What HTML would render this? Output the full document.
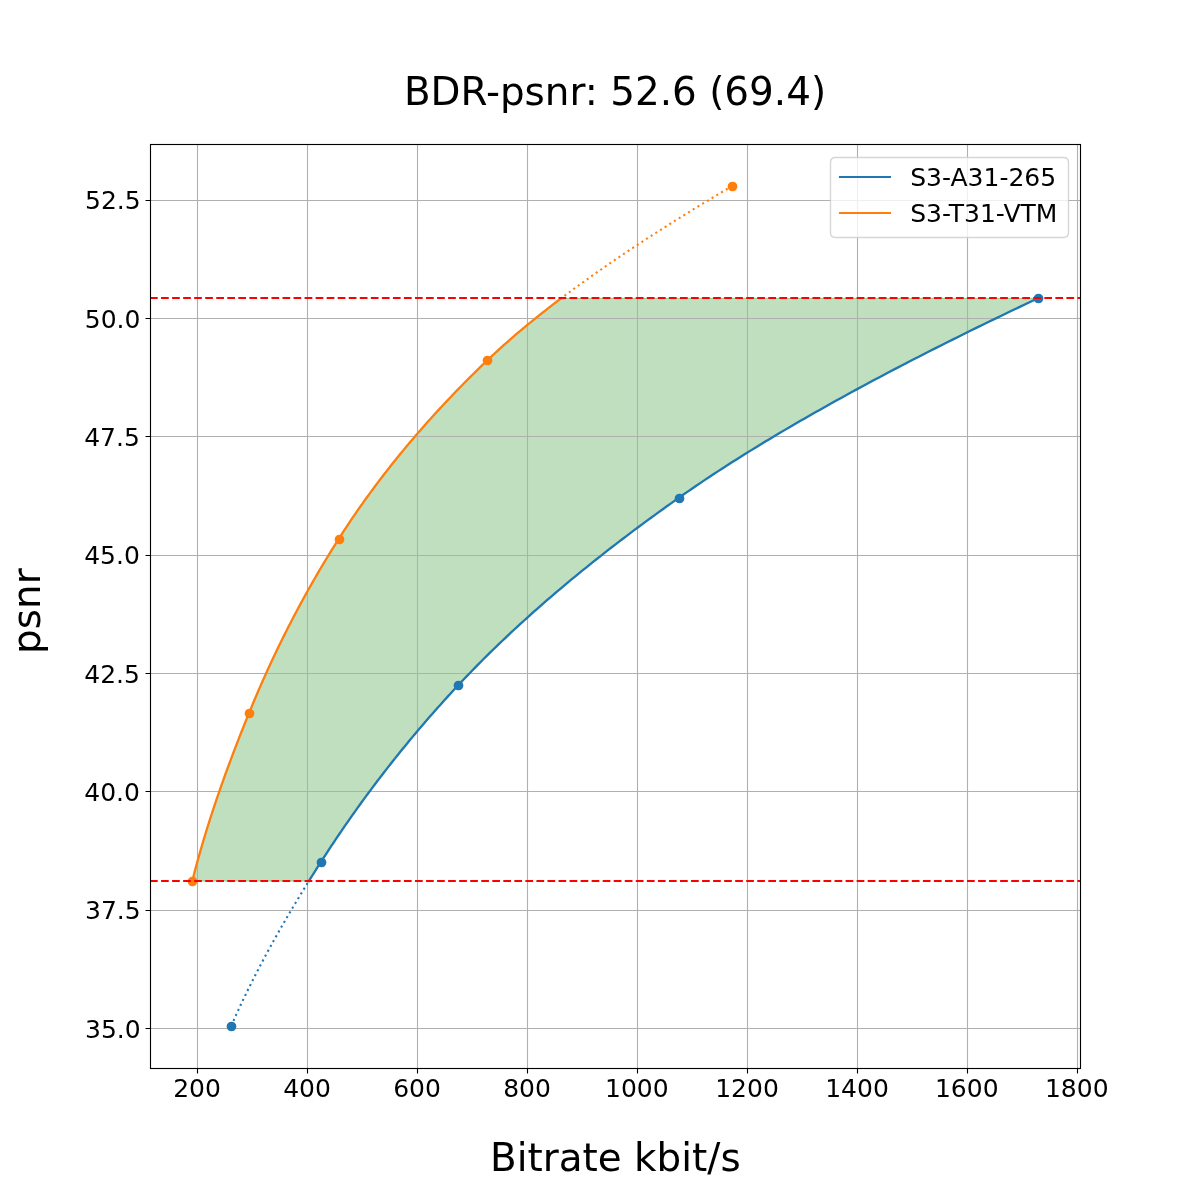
<!DOCTYPE html>
<html lang="en"><head><meta charset="utf-8"><title>BDR-psnr: 52.6 (69.4)</title>
<style>html,body{margin:0;padding:0;background:#fff;width:1200px;height:1200px;overflow:hidden}svg text{white-space:pre}</style>
</head><body>
<svg width="1200" height="1200" viewBox="0 0 1200 1200" font-family="DejaVu Sans, Liberation Sans, sans-serif" style="display:block">
<rect width="1200" height="1200" fill="#fff"/>
<path d="M192.27 881.12 L193.01 878.19 L193.76 875.26 L194.52 872.33 L195.29 869.40 L196.07 866.47 L196.86 863.54 L197.66 860.62 L198.47 857.69 L199.30 854.76 L200.13 851.83 L200.97 848.90 L201.82 845.97 L202.68 843.04 L203.55 840.12 L204.42 837.19 L205.31 834.26 L206.21 831.33 L207.11 828.40 L208.03 825.47 L208.95 822.55 L209.89 819.62 L210.83 816.69 L211.78 813.76 L212.74 810.83 L213.70 807.90 L214.68 804.97 L215.66 802.05 L216.65 799.12 L217.65 796.19 L218.66 793.26 L219.68 790.33 L220.70 787.40 L221.73 784.48 L222.77 781.55 L223.82 778.62 L224.87 775.69 L225.93 772.76 L227.00 769.83 L228.08 766.90 L229.16 763.98 L230.25 761.05 L231.34 758.12 L232.45 755.19 L233.56 752.26 L234.67 749.33 L235.80 746.41 L236.93 743.48 L238.06 740.55 L239.20 737.62 L240.35 734.69 L241.50 731.76 L242.66 728.83 L243.83 725.91 L245.00 722.98 L246.18 720.05 L247.36 717.12 L248.55 714.19 L249.74 711.26 L250.95 708.33 L252.16 705.41 L253.38 702.48 L254.61 699.55 L255.86 696.62 L257.11 693.69 L258.37 690.76 L259.64 687.84 L260.92 684.91 L262.21 681.98 L263.51 679.05 L264.82 676.12 L266.14 673.19 L267.47 670.26 L268.81 667.34 L270.16 664.41 L271.53 661.48 L272.90 658.55 L274.28 655.62 L275.67 652.69 L277.08 649.77 L278.49 646.84 L279.92 643.91 L281.36 640.98 L282.80 638.05 L284.26 635.12 L285.73 632.19 L287.21 629.27 L288.70 626.34 L290.21 623.41 L291.72 620.48 L293.25 617.55 L294.78 614.62 L296.33 611.69 L297.89 608.77 L299.46 605.84 L301.05 602.91 L302.64 599.98 L304.25 597.05 L305.87 594.12 L307.50 591.20 L309.14 588.27 L310.80 585.34 L312.46 582.41 L314.14 579.48 L315.84 576.55 L317.54 573.62 L319.26 570.70 L320.98 567.77 L322.73 564.84 L324.48 561.91 L326.25 558.98 L328.03 556.05 L329.82 553.13 L331.62 550.20 L333.44 547.27 L335.27 544.34 L337.12 541.41 L338.97 538.48 L340.85 535.55 L342.74 532.63 L344.64 529.70 L346.57 526.77 L348.51 523.84 L350.47 520.91 L352.45 517.98 L354.45 515.06 L356.46 512.13 L358.49 509.20 L360.54 506.27 L362.61 503.34 L364.69 500.41 L366.80 497.48 L368.92 494.56 L371.06 491.63 L373.22 488.70 L375.40 485.77 L377.60 482.84 L379.81 479.91 L382.05 476.98 L384.30 474.06 L386.57 471.13 L388.86 468.20 L391.17 465.27 L393.50 462.34 L395.85 459.41 L398.22 456.49 L400.61 453.56 L403.02 450.63 L405.44 447.70 L407.89 444.77 L410.36 441.84 L412.85 438.91 L415.35 435.99 L417.88 433.06 L420.43 430.13 L422.99 427.20 L425.58 424.27 L428.19 421.34 L430.82 418.42 L433.47 415.49 L436.14 412.56 L438.83 409.63 L441.54 406.70 L444.27 403.77 L447.03 400.84 L449.80 397.92 L452.60 394.99 L455.41 392.06 L458.25 389.13 L461.11 386.20 L463.99 383.27 L466.90 380.34 L469.82 377.42 L472.77 374.49 L475.73 371.56 L478.72 368.63 L481.74 365.70 L484.77 362.77 L487.83 359.85 L490.92 356.92 L494.05 353.99 L497.22 351.06 L500.44 348.13 L503.70 345.20 L507.00 342.27 L510.34 339.35 L513.72 336.42 L517.13 333.49 L520.59 330.56 L524.09 327.63 L527.62 324.70 L531.20 321.78 L534.81 318.85 L538.46 315.92 L542.14 312.99 L545.87 310.06 L549.62 307.13 L553.42 304.20 L557.25 301.28 L561.11 298.35 L1037.73 298.35 L1031.53 301.28 L1025.35 304.20 L1019.20 307.13 L1013.07 310.06 L1006.97 312.99 L1000.89 315.92 L994.83 318.85 L988.79 321.78 L982.78 324.70 L976.80 327.63 L970.84 330.56 L964.90 333.49 L958.99 336.42 L953.11 339.35 L947.25 342.27 L941.42 345.20 L935.61 348.13 L929.83 351.06 L924.08 353.99 L918.35 356.92 L912.65 359.85 L906.98 362.77 L901.33 365.70 L895.71 368.63 L890.12 371.56 L884.56 374.49 L879.03 377.42 L873.52 380.34 L868.04 383.27 L862.60 386.20 L857.18 389.13 L851.79 392.06 L846.43 394.99 L841.10 397.92 L835.80 400.84 L830.54 403.77 L825.30 406.70 L820.09 409.63 L814.91 412.56 L809.77 415.49 L804.65 418.42 L799.57 421.34 L794.52 424.27 L789.50 427.20 L784.52 430.13 L779.57 433.06 L774.65 435.99 L769.76 438.91 L764.90 441.84 L760.08 444.77 L755.30 447.70 L750.54 450.63 L745.82 453.56 L741.14 456.49 L736.49 459.41 L731.87 462.34 L727.29 465.27 L722.75 468.20 L718.24 471.13 L713.76 474.06 L709.33 476.98 L704.92 479.91 L700.56 482.84 L696.23 485.77 L691.94 488.70 L687.68 491.63 L683.46 494.56 L679.28 497.48 L675.13 500.41 L671.01 503.34 L666.90 506.27 L662.82 509.20 L658.76 512.13 L654.72 515.06 L650.70 517.98 L646.71 520.91 L642.74 523.84 L638.79 526.77 L634.86 529.70 L630.96 532.63 L627.07 535.55 L623.21 538.48 L619.37 541.41 L615.56 544.34 L611.76 547.27 L607.99 550.20 L604.24 553.13 L600.52 556.05 L596.81 558.98 L593.13 561.91 L589.47 564.84 L585.83 567.77 L582.21 570.70 L578.62 573.62 L575.05 576.55 L571.50 579.48 L567.97 582.41 L564.47 585.34 L560.99 588.27 L557.52 591.20 L554.09 594.12 L550.67 597.05 L547.28 599.98 L543.91 602.91 L540.56 605.84 L537.23 608.77 L533.92 611.69 L530.64 614.62 L527.38 617.55 L524.14 620.48 L520.93 623.41 L517.73 626.34 L514.56 629.27 L511.41 632.19 L508.29 635.12 L505.18 638.05 L502.10 640.98 L499.04 643.91 L496.00 646.84 L492.98 649.77 L489.99 652.69 L487.02 655.62 L484.07 658.55 L481.14 661.48 L478.24 664.41 L475.35 667.34 L472.49 670.26 L469.66 673.19 L466.84 676.12 L464.05 679.05 L461.27 681.98 L458.52 684.91 L455.80 687.84 L453.08 690.76 L450.39 693.69 L447.71 696.62 L445.05 699.55 L442.41 702.48 L439.78 705.41 L437.17 708.33 L434.58 711.26 L432.00 714.19 L429.44 717.12 L426.89 720.05 L424.36 722.98 L421.85 725.91 L419.35 728.83 L416.87 731.76 L414.40 734.69 L411.95 737.62 L409.52 740.55 L407.10 743.48 L404.70 746.41 L402.31 749.33 L399.93 752.26 L397.58 755.19 L395.23 758.12 L392.90 761.05 L390.59 763.98 L388.29 766.90 L386.00 769.83 L383.73 772.76 L381.48 775.69 L379.23 778.62 L377.01 781.55 L374.79 784.48 L372.59 787.40 L370.40 790.33 L368.23 793.26 L366.07 796.19 L363.93 799.12 L361.79 802.05 L359.67 804.97 L357.57 807.90 L355.48 810.83 L353.40 813.76 L351.33 816.69 L349.27 819.62 L347.23 822.55 L345.20 825.47 L343.19 828.40 L341.18 831.33 L339.19 834.26 L337.21 837.19 L335.24 840.12 L333.28 843.04 L331.34 845.97 L329.41 848.90 L327.49 851.83 L325.58 854.76 L323.68 857.69 L321.79 860.62 L319.92 863.54 L318.05 866.47 L316.19 869.40 L314.34 872.33 L312.50 875.26 L310.66 878.19 L308.84 881.12 Z" fill="#008000" fill-opacity="0.25"/>
<path d="M192.27 881.12 L193.01 878.19 L193.76 875.26 L194.52 872.33 L195.29 869.40 L196.07 866.47 L196.86 863.54 L197.66 860.62 L198.47 857.69 L199.30 854.76 L200.13 851.83 L200.97 848.90 L201.82 845.97 L202.68 843.04 L203.55 840.12 L204.42 837.19 L205.31 834.26 L206.21 831.33 L207.11 828.40 L208.03 825.47 L208.95 822.55 L209.89 819.62 L210.83 816.69 L211.78 813.76 L212.74 810.83 L213.70 807.90 L214.68 804.97 L215.66 802.05 L216.65 799.12 L217.65 796.19 L218.66 793.26 L219.68 790.33 L220.70 787.40 L221.73 784.48 L222.77 781.55 L223.82 778.62 L224.87 775.69 L225.93 772.76 L227.00 769.83 L228.08 766.90 L229.16 763.98 L230.25 761.05 L231.34 758.12 L232.45 755.19 L233.56 752.26 L234.67 749.33 L235.80 746.41 L236.93 743.48 L238.06 740.55 L239.20 737.62 L240.35 734.69 L241.50 731.76 L242.66 728.83 L243.83 725.91 L245.00 722.98 L246.18 720.05 L247.36 717.12 L248.55 714.19 L249.74 711.26 L250.95 708.33 L252.16 705.41 L253.38 702.48 L254.61 699.55 L255.86 696.62 L257.11 693.69 L258.37 690.76 L259.64 687.84 L260.92 684.91 L262.21 681.98 L263.51 679.05 L264.82 676.12 L266.14 673.19 L267.47 670.26 L268.81 667.34 L270.16 664.41 L271.53 661.48 L272.90 658.55 L274.28 655.62 L275.67 652.69 L277.08 649.77 L278.49 646.84 L279.92 643.91 L281.36 640.98 L282.80 638.05 L284.26 635.12 L285.73 632.19 L287.21 629.27 L288.70 626.34 L290.21 623.41 L291.72 620.48 L293.25 617.55 L294.78 614.62 L296.33 611.69 L297.89 608.77 L299.46 605.84 L301.05 602.91 L302.64 599.98 L304.25 597.05 L305.87 594.12 L307.50 591.20 L309.14 588.27 L310.80 585.34 L312.46 582.41 L314.14 579.48 L315.84 576.55 L317.54 573.62 L319.26 570.70 L320.98 567.77 L322.73 564.84 L324.48 561.91 L326.25 558.98 L328.03 556.05 L329.82 553.13 L331.62 550.20 L333.44 547.27 L335.27 544.34 L337.12 541.41 L338.97 538.48 L340.85 535.55 L342.74 532.63 L344.64 529.70 L346.57 526.77 L348.51 523.84 L350.47 520.91 L352.45 517.98 L354.45 515.06 L356.46 512.13 L358.49 509.20 L360.54 506.27 L362.61 503.34 L364.69 500.41 L366.80 497.48 L368.92 494.56 L371.06 491.63 L373.22 488.70 L375.40 485.77 L377.60 482.84 L379.81 479.91 L382.05 476.98 L384.30 474.06 L386.57 471.13 L388.86 468.20 L391.17 465.27 L393.50 462.34 L395.85 459.41 L398.22 456.49 L400.61 453.56 L403.02 450.63 L405.44 447.70 L407.89 444.77 L410.36 441.84 L412.85 438.91 L415.35 435.99 L417.88 433.06 L420.43 430.13 L422.99 427.20 L425.58 424.27 L428.19 421.34 L430.82 418.42 L433.47 415.49 L436.14 412.56 L438.83 409.63 L441.54 406.70 L444.27 403.77 L447.03 400.84 L449.80 397.92 L452.60 394.99 L455.41 392.06 L458.25 389.13 L461.11 386.20 L463.99 383.27 L466.90 380.34 L469.82 377.42 L472.77 374.49 L475.73 371.56 L478.72 368.63 L481.74 365.70 L484.77 362.77 L487.83 359.85 L490.92 356.92 L494.05 353.99 L497.22 351.06 L500.44 348.13 L503.70 345.20 L507.00 342.27 L510.34 339.35 L513.72 336.42 L517.13 333.49 L520.59 330.56 L524.09 327.63 L527.62 324.70 L531.20 321.78 L534.81 318.85 L538.46 315.92 L542.14 312.99 L545.87 310.06 L549.62 307.13 L553.42 304.20 L557.25 301.28 L561.11 298.35 L1037.73 298.35 L1031.53 301.28 L1025.35 304.20 L1019.20 307.13 L1013.07 310.06 L1006.97 312.99 L1000.89 315.92 L994.83 318.85 L988.79 321.78 L982.78 324.70 L976.80 327.63 L970.84 330.56 L964.90 333.49 L958.99 336.42 L953.11 339.35 L947.25 342.27 L941.42 345.20 L935.61 348.13 L929.83 351.06 L924.08 353.99 L918.35 356.92 L912.65 359.85 L906.98 362.77 L901.33 365.70 L895.71 368.63 L890.12 371.56 L884.56 374.49 L879.03 377.42 L873.52 380.34 L868.04 383.27 L862.60 386.20 L857.18 389.13 L851.79 392.06 L846.43 394.99 L841.10 397.92 L835.80 400.84 L830.54 403.77 L825.30 406.70 L820.09 409.63 L814.91 412.56 L809.77 415.49 L804.65 418.42 L799.57 421.34 L794.52 424.27 L789.50 427.20 L784.52 430.13 L779.57 433.06 L774.65 435.99 L769.76 438.91 L764.90 441.84 L760.08 444.77 L755.30 447.70 L750.54 450.63 L745.82 453.56 L741.14 456.49 L736.49 459.41 L731.87 462.34 L727.29 465.27 L722.75 468.20 L718.24 471.13 L713.76 474.06 L709.33 476.98 L704.92 479.91 L700.56 482.84 L696.23 485.77 L691.94 488.70 L687.68 491.63 L683.46 494.56 L679.28 497.48 L675.13 500.41 L671.01 503.34 L666.90 506.27 L662.82 509.20 L658.76 512.13 L654.72 515.06 L650.70 517.98 L646.71 520.91 L642.74 523.84 L638.79 526.77 L634.86 529.70 L630.96 532.63 L627.07 535.55 L623.21 538.48 L619.37 541.41 L615.56 544.34 L611.76 547.27 L607.99 550.20 L604.24 553.13 L600.52 556.05 L596.81 558.98 L593.13 561.91 L589.47 564.84 L585.83 567.77 L582.21 570.70 L578.62 573.62 L575.05 576.55 L571.50 579.48 L567.97 582.41 L564.47 585.34 L560.99 588.27 L557.52 591.20 L554.09 594.12 L550.67 597.05 L547.28 599.98 L543.91 602.91 L540.56 605.84 L537.23 608.77 L533.92 611.69 L530.64 614.62 L527.38 617.55 L524.14 620.48 L520.93 623.41 L517.73 626.34 L514.56 629.27 L511.41 632.19 L508.29 635.12 L505.18 638.05 L502.10 640.98 L499.04 643.91 L496.00 646.84 L492.98 649.77 L489.99 652.69 L487.02 655.62 L484.07 658.55 L481.14 661.48 L478.24 664.41 L475.35 667.34 L472.49 670.26 L469.66 673.19 L466.84 676.12 L464.05 679.05 L461.27 681.98 L458.52 684.91 L455.80 687.84 L453.08 690.76 L450.39 693.69 L447.71 696.62 L445.05 699.55 L442.41 702.48 L439.78 705.41 L437.17 708.33 L434.58 711.26 L432.00 714.19 L429.44 717.12 L426.89 720.05 L424.36 722.98 L421.85 725.91 L419.35 728.83 L416.87 731.76 L414.40 734.69 L411.95 737.62 L409.52 740.55 L407.10 743.48 L404.70 746.41 L402.31 749.33 L399.93 752.26 L397.58 755.19 L395.23 758.12 L392.90 761.05 L390.59 763.98 L388.29 766.90 L386.00 769.83 L383.73 772.76 L381.48 775.69 L379.23 778.62 L377.01 781.55 L374.79 784.48 L372.59 787.40 L370.40 790.33 L368.23 793.26 L366.07 796.19 L363.93 799.12 L361.79 802.05 L359.67 804.97 L357.57 807.90 L355.48 810.83 L353.40 813.76 L351.33 816.69 L349.27 819.62 L347.23 822.55 L345.20 825.47 L343.19 828.40 L341.18 831.33 L339.19 834.26 L337.21 837.19 L335.24 840.12 L333.28 843.04 L331.34 845.97 L329.41 848.90 L327.49 851.83 L325.58 854.76 L323.68 857.69 L321.79 860.62 L319.92 863.54 L318.05 866.47 L316.19 869.40 L314.34 872.33 L312.50 875.26 L310.66 878.19 L308.84 881.12 Z" fill="none" stroke="#008000" stroke-opacity="0.25" stroke-width="1.389" stroke-linejoin="miter"/>
<path d="M197.5 144V1068M307.5 144V1068M417.5 144V1068M527.5 144V1068M637.5 144V1068M747.5 144V1068M857.5 144V1068M967.5 144V1068M1077.5 144V1068M150 1028.5H1080M150 910.5H1080M150 791.5H1080M150 673.5H1080M150 555.5H1080M150 436.5H1080M150 318.5H1080M150 200.5H1080" stroke="#b0b0b0" stroke-width="1.11" fill="none"/>
<g fill="none" stroke-width="2.083" stroke-linejoin="round">
<path d="M308.84 881.12 L310.66 878.19 L312.50 875.26 L314.34 872.33 L316.19 869.40 L318.05 866.47 L319.92 863.54 L321.79 860.62 L323.68 857.69 L325.58 854.76 L327.49 851.83 L329.41 848.90 L331.34 845.97 L333.28 843.04 L335.24 840.12 L337.21 837.19 L339.19 834.26 L341.18 831.33 L343.19 828.40 L345.20 825.47 L347.23 822.55 L349.27 819.62 L351.33 816.69 L353.40 813.76 L355.48 810.83 L357.57 807.90 L359.67 804.97 L361.79 802.05 L363.93 799.12 L366.07 796.19 L368.23 793.26 L370.40 790.33 L372.59 787.40 L374.79 784.48 L377.01 781.55 L379.23 778.62 L381.48 775.69 L383.73 772.76 L386.00 769.83 L388.29 766.90 L390.59 763.98 L392.90 761.05 L395.23 758.12 L397.58 755.19 L399.93 752.26 L402.31 749.33 L404.70 746.41 L407.10 743.48 L409.52 740.55 L411.95 737.62 L414.40 734.69 L416.87 731.76 L419.35 728.83 L421.85 725.91 L424.36 722.98 L426.89 720.05 L429.44 717.12 L432.00 714.19 L434.58 711.26 L437.17 708.33 L439.78 705.41 L442.41 702.48 L445.05 699.55 L447.71 696.62 L450.39 693.69 L453.08 690.76 L455.80 687.84 L458.52 684.91 L461.27 681.98 L464.05 679.05 L466.84 676.12 L469.66 673.19 L472.49 670.26 L475.35 667.34 L478.24 664.41 L481.14 661.48 L484.07 658.55 L487.02 655.62 L489.99 652.69 L492.98 649.77 L496.00 646.84 L499.04 643.91 L502.10 640.98 L505.18 638.05 L508.29 635.12 L511.41 632.19 L514.56 629.27 L517.73 626.34 L520.93 623.41 L524.14 620.48 L527.38 617.55 L530.64 614.62 L533.92 611.69 L537.23 608.77 L540.56 605.84 L543.91 602.91 L547.28 599.98 L550.67 597.05 L554.09 594.12 L557.52 591.20 L560.99 588.27 L564.47 585.34 L567.97 582.41 L571.50 579.48 L575.05 576.55 L578.62 573.62 L582.21 570.70 L585.83 567.77 L589.47 564.84 L593.13 561.91 L596.81 558.98 L600.52 556.05 L604.24 553.13 L607.99 550.20 L611.76 547.27 L615.56 544.34 L619.37 541.41 L623.21 538.48 L627.07 535.55 L630.96 532.63 L634.86 529.70 L638.79 526.77 L642.74 523.84 L646.71 520.91 L650.70 517.98 L654.72 515.06 L658.76 512.13 L662.82 509.20 L666.90 506.27 L671.01 503.34 L675.13 500.41 L679.28 497.48 L683.46 494.56 L687.68 491.63 L691.94 488.70 L696.23 485.77 L700.56 482.84 L704.92 479.91 L709.33 476.98 L713.76 474.06 L718.24 471.13 L722.75 468.20 L727.29 465.27 L731.87 462.34 L736.49 459.41 L741.14 456.49 L745.82 453.56 L750.54 450.63 L755.30 447.70 L760.08 444.77 L764.90 441.84 L769.76 438.91 L774.65 435.99 L779.57 433.06 L784.52 430.13 L789.50 427.20 L794.52 424.27 L799.57 421.34 L804.65 418.42 L809.77 415.49 L814.91 412.56 L820.09 409.63 L825.30 406.70 L830.54 403.77 L835.80 400.84 L841.10 397.92 L846.43 394.99 L851.79 392.06 L857.18 389.13 L862.60 386.20 L868.04 383.27 L873.52 380.34 L879.03 377.42 L884.56 374.49 L890.12 371.56 L895.71 368.63 L901.33 365.70 L906.98 362.77 L912.65 359.85 L918.35 356.92 L924.08 353.99 L929.83 351.06 L935.61 348.13 L941.42 345.20 L947.25 342.27 L953.11 339.35 L958.99 336.42 L964.90 333.49 L970.84 330.56 L976.80 327.63 L982.78 324.70 L988.79 321.78 L994.83 318.85 L1000.89 315.92 L1006.97 312.99 L1013.07 310.06 L1019.20 307.13 L1025.35 304.20 L1031.53 301.28 L1037.73 298.35" stroke="#1f77b4" stroke-linecap="square" stroke-width="2.3"/>
<path d="M192.27 881.12 L193.01 878.19 L193.76 875.26 L194.52 872.33 L195.29 869.40 L196.07 866.47 L196.86 863.54 L197.66 860.62 L198.47 857.69 L199.30 854.76 L200.13 851.83 L200.97 848.90 L201.82 845.97 L202.68 843.04 L203.55 840.12 L204.42 837.19 L205.31 834.26 L206.21 831.33 L207.11 828.40 L208.03 825.47 L208.95 822.55 L209.89 819.62 L210.83 816.69 L211.78 813.76 L212.74 810.83 L213.70 807.90 L214.68 804.97 L215.66 802.05 L216.65 799.12 L217.65 796.19 L218.66 793.26 L219.68 790.33 L220.70 787.40 L221.73 784.48 L222.77 781.55 L223.82 778.62 L224.87 775.69 L225.93 772.76 L227.00 769.83 L228.08 766.90 L229.16 763.98 L230.25 761.05 L231.34 758.12 L232.45 755.19 L233.56 752.26 L234.67 749.33 L235.80 746.41 L236.93 743.48 L238.06 740.55 L239.20 737.62 L240.35 734.69 L241.50 731.76 L242.66 728.83 L243.83 725.91 L245.00 722.98 L246.18 720.05 L247.36 717.12 L248.55 714.19 L249.74 711.26 L250.95 708.33 L252.16 705.41 L253.38 702.48 L254.61 699.55 L255.86 696.62 L257.11 693.69 L258.37 690.76 L259.64 687.84 L260.92 684.91 L262.21 681.98 L263.51 679.05 L264.82 676.12 L266.14 673.19 L267.47 670.26 L268.81 667.34 L270.16 664.41 L271.53 661.48 L272.90 658.55 L274.28 655.62 L275.67 652.69 L277.08 649.77 L278.49 646.84 L279.92 643.91 L281.36 640.98 L282.80 638.05 L284.26 635.12 L285.73 632.19 L287.21 629.27 L288.70 626.34 L290.21 623.41 L291.72 620.48 L293.25 617.55 L294.78 614.62 L296.33 611.69 L297.89 608.77 L299.46 605.84 L301.05 602.91 L302.64 599.98 L304.25 597.05 L305.87 594.12 L307.50 591.20 L309.14 588.27 L310.80 585.34 L312.46 582.41 L314.14 579.48 L315.84 576.55 L317.54 573.62 L319.26 570.70 L320.98 567.77 L322.73 564.84 L324.48 561.91 L326.25 558.98 L328.03 556.05 L329.82 553.13 L331.62 550.20 L333.44 547.27 L335.27 544.34 L337.12 541.41 L338.97 538.48 L340.85 535.55 L342.74 532.63 L344.64 529.70 L346.57 526.77 L348.51 523.84 L350.47 520.91 L352.45 517.98 L354.45 515.06 L356.46 512.13 L358.49 509.20 L360.54 506.27 L362.61 503.34 L364.69 500.41 L366.80 497.48 L368.92 494.56 L371.06 491.63 L373.22 488.70 L375.40 485.77 L377.60 482.84 L379.81 479.91 L382.05 476.98 L384.30 474.06 L386.57 471.13 L388.86 468.20 L391.17 465.27 L393.50 462.34 L395.85 459.41 L398.22 456.49 L400.61 453.56 L403.02 450.63 L405.44 447.70 L407.89 444.77 L410.36 441.84 L412.85 438.91 L415.35 435.99 L417.88 433.06 L420.43 430.13 L422.99 427.20 L425.58 424.27 L428.19 421.34 L430.82 418.42 L433.47 415.49 L436.14 412.56 L438.83 409.63 L441.54 406.70 L444.27 403.77 L447.03 400.84 L449.80 397.92 L452.60 394.99 L455.41 392.06 L458.25 389.13 L461.11 386.20 L463.99 383.27 L466.90 380.34 L469.82 377.42 L472.77 374.49 L475.73 371.56 L478.72 368.63 L481.74 365.70 L484.77 362.77 L487.83 359.85 L490.92 356.92 L494.05 353.99 L497.22 351.06 L500.44 348.13 L503.70 345.20 L507.00 342.27 L510.34 339.35 L513.72 336.42 L517.13 333.49 L520.59 330.56 L524.09 327.63 L527.62 324.70 L531.20 321.78 L534.81 318.85 L538.46 315.92 L542.14 312.99 L545.87 310.06 L549.62 307.13 L553.42 304.20 L557.25 301.28 L561.11 298.35" stroke="#ff7f0e" stroke-linecap="square" stroke-width="2.3"/>
<path d="M231.20 1026.00 L232.50 1023.04 L233.81 1020.09 L235.13 1017.13 L236.47 1014.17 L237.82 1011.22 L239.18 1008.26 L240.56 1005.30 L241.95 1002.35 L243.35 999.39 L244.77 996.43 L246.20 993.47 L247.64 990.52 L249.09 987.56 L250.55 984.60 L252.03 981.65 L253.52 978.69 L255.02 975.73 L256.53 972.78 L258.06 969.82 L259.60 966.86 L261.15 963.91 L262.71 960.95 L264.28 957.99 L265.86 955.04 L267.45 952.08 L269.06 949.12 L270.68 946.17 L272.30 943.21 L273.94 940.25 L275.59 937.29 L277.25 934.34 L278.92 931.38 L280.60 928.42 L282.29 925.47 L283.99 922.51 L285.71 919.55 L287.43 916.60 L289.16 913.64 L290.90 910.68 L292.65 907.73 L294.41 904.77 L296.18 901.81 L297.96 898.86 L299.75 895.90 L301.55 892.94 L303.36 889.99 L305.17 887.03 L307.00 884.07 L308.84 881.12" stroke="#1f77b4" stroke-dasharray="2.083 3.437"/>
<path d="M561.11 298.35 L564.17 296.05 L567.24 293.76 L570.33 291.47 L573.44 289.18 L576.58 286.88 L579.73 284.59 L582.91 282.30 L586.10 280.00 L589.32 277.71 L592.55 275.42 L595.80 273.13 L599.08 270.83 L602.37 268.54 L605.68 266.25 L609.01 263.96 L612.36 261.66 L615.73 259.37 L619.11 257.08 L622.52 254.78 L625.94 252.49 L629.38 250.20 L632.83 247.91 L636.31 245.61 L639.80 243.32 L643.31 241.03 L646.83 238.73 L650.37 236.44 L653.93 234.15 L657.50 231.86 L661.10 229.56 L664.70 227.27 L668.32 224.98 L671.96 222.68 L675.61 220.39 L679.28 218.10 L682.96 215.81 L686.66 213.51 L690.38 211.22 L694.10 208.93 L697.84 206.64 L701.60 204.34 L705.37 202.05 L709.15 199.76 L712.95 197.46 L716.76 195.17 L720.58 192.88 L724.42 190.59 L728.27 188.29 L732.13 186.00" stroke="#ff7f0e" stroke-dasharray="2.083 3.437" stroke-dashoffset="1.3"/>
</g>
<g fill="#1f77b4"><circle cx="231.50" cy="1026.50" r="4.86"/><circle cx="321.50" cy="862.50" r="4.86"/><circle cx="458.50" cy="685.50" r="4.86"/><circle cx="679.50" cy="498.50" r="4.86"/><circle cx="1038.50" cy="298.50" r="4.86"/></g>
<g fill="#ff7f0e"><circle cx="192.50" cy="881.50" r="4.86"/><circle cx="249.50" cy="713.50" r="4.86"/><circle cx="339.50" cy="539.50" r="4.86"/><circle cx="487.50" cy="360.50" r="4.86"/><circle cx="732.50" cy="186.50" r="4.86"/></g>
<path d="M150 881.00H1080" stroke="#ff0000" stroke-width="2.083" stroke-dasharray="7.708 3.333" fill="none"/>
<path d="M150 298.00H1080" stroke="#ff0000" stroke-width="2.083" stroke-dasharray="7.708 3.333" fill="none"/>
<path d="M197.5 1068.5v5.0M307.5 1068.5v5.0M417.5 1068.5v5.0M527.5 1068.5v5.0M637.5 1068.5v5.0M747.5 1068.5v5.0M857.5 1068.5v5.0M967.5 1068.5v5.0M1077.5 1068.5v5.0M150.5 1028.5h-5.0M150.5 910.5h-5.0M150.5 791.5h-5.0M150.5 673.5h-5.0M150.5 555.5h-5.0M150.5 436.5h-5.0M150.5 318.5h-5.0M150.5 200.5h-5.0" stroke="#000" stroke-width="1.11" fill="none"/>
<rect x="150.5" y="144.5" width="930" height="924" fill="none" stroke="#000" stroke-width="1.11" stroke-linejoin="miter"/>
<g fill="#000">
<text x="173.15" y="1096.72" font-size="25.000">200</text>
<text x="283.15" y="1096.72" font-size="25.000">400</text>
<text x="393.15" y="1096.72" font-size="25.000">600</text>
<text x="503.15" y="1096.72" font-size="25.000">800</text>
<text x="605.02" y="1096.72" font-size="25.000">1000</text>
<text x="715.21" y="1096.72" font-size="25.000">1200</text>
<text x="825.21" y="1096.72" font-size="25.000">1400</text>
<text x="934.96" y="1096.72" font-size="25.000">1600</text>
<text x="1044.96" y="1096.72" font-size="25.000">1800</text>
<text x="85.03" y="1037.58" font-size="25.000">35.0</text>
<text x="85.03" y="918.50" font-size="25.000">37.5</text>
<text x="84.28" y="800.66" font-size="25.000">40.0</text>
<text x="84.28" y="682.58" font-size="25.000">42.5</text>
<text x="84.15" y="563.74" font-size="25.000">45.0</text>
<text x="84.15" y="445.66" font-size="25.000">47.5</text>
<text x="84.78" y="327.57" font-size="25.000">50.0</text>
<text x="85.03" y="208.74" font-size="25.000">52.5</text>
<text x="403.88" y="104.61" font-size="38.889">BDR-psnr: 52.6 (69.4)</text>
<text x="490.06" y="1170.61" font-size="38.889">Bitrate kbit/s</text>
<text transform="translate(39.64 653.94) rotate(-90)" font-size="38.889">psnr</text>
</g>
<path d="M835.50 157.50H1063.50Q1068.50 157.50 1068.50 162.50V232.50Q1068.50 237.50 1063.50 237.50H835.50Q830.50 237.50 830.50 232.50V162.50Q830.50 157.50 835.50 157.50Z" fill="#fff" fill-opacity="0.8" stroke="#ccc" stroke-opacity="0.8" stroke-width="1.389"/>
<path d="M840.00 177.00L890.00 177.00" stroke="#1f77b4" stroke-width="2.083" stroke-linecap="square" fill="none"/>
<path d="M840.00 213.00L890.00 213.00" stroke="#ff7f0e" stroke-width="2.083" stroke-linecap="square" fill="none"/>
<g fill="#000">
<text x="910.25" y="185.50" font-size="25.000">S3-A31-265</text>
<text x="910.25" y="221.50" font-size="25.000">S3-T31-VTM</text>
</g>
</svg>
</body></html>
